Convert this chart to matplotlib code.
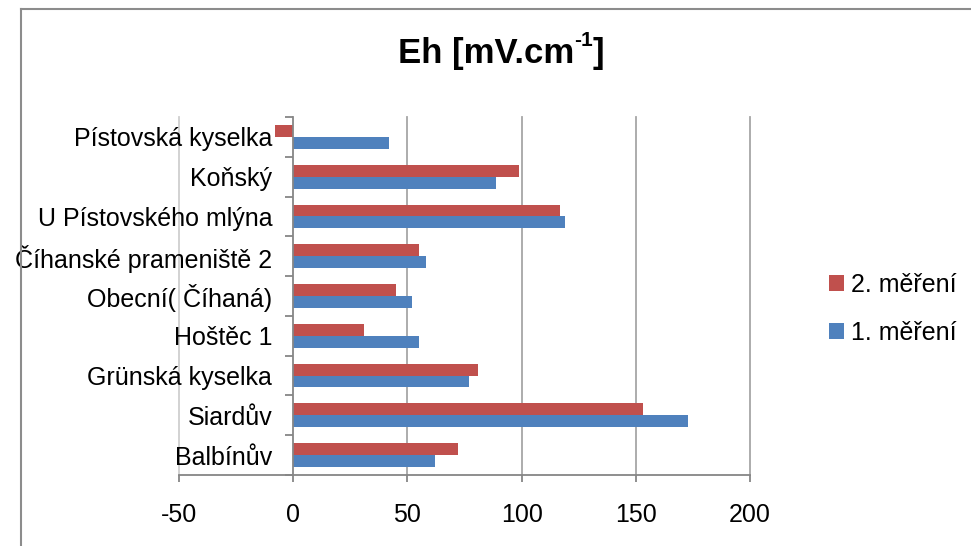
import numpy as np
import matplotlib
matplotlib.use("Agg")
import matplotlib.pyplot as plt
from matplotlib.patches import Patch
from matplotlib.lines import Line2D
from matplotlib.ticker import FixedLocator, NullFormatter

plt.rcParams["font.family"] = ["Liberation Sans", "DejaVu Sans"]

# lokality odspodu nahoru
lokality = ["Balbínův", "Siardův", "Grünská kyselka", "Hoštěc 1",
            "Obecní( Číhaná)", "Číhanské prameniště 2",
            "U Pístovského mlýna", "Koňský", "Pístovská kyselka"]
mereni_1 = [62, 173, 77, 55, 52, 58, 119, 89, 42]
mereni_2 = [72, 153, 81, 31, 45, 55, 117, 99, -8]
x_ticks = [-50, 0, 50, 100, 150, 200]

BLUE = "#4F81BD"
RED = "#C0504D"
GRID = "#A6A6A6"
AXIS = "#868686"

fig = plt.figure(figsize=(9.71, 5.46), dpi=100)
ax = fig.add_axes([179/971, 1-475/546, (750-179)/971, (475-117)/546])

y = np.arange(len(lokality))
h = 0.3
ax.barh(y + h/2, mereni_2, height=h, color=RED, zorder=3)
ax.barh(y - h/2, mereni_1, height=h, color=BLUE, zorder=3)

ax.set_xlim(-50, 200)
ax.set_ylim(-0.5, len(lokality) - 0.5)

# svislá mřížka (levý okraj světlejší)
for xv in x_ticks:
    if xv == 0:
        continue
    ax.axvline(xv, color="#CFCFCF" if xv < 0 else GRID, lw=1.3, zorder=1,
               clip_on=False)

for s in ["top", "right"]:
    ax.spines[s].set_visible(False)
ax.spines["left"].set_position(("data", 0))
ax.spines["left"].set_color(AXIS)
ax.spines["left"].set_linewidth(1.3)
ax.spines["left"].set_zorder(4)
ax.spines["bottom"].set_color(AXIS)
ax.spines["bottom"].set_linewidth(1.3)

ax.set_xticks(x_ticks)
ax.set_xticklabels([str(v) for v in x_ticks])
ax.tick_params(axis="x", length=5, width=1.3, color=AXIS, pad=15,
               labelsize=18)

ax.set_yticks(y)
ax.set_yticklabels(lokality)
ax.tick_params(axis="y", which="major", length=0, pad=15, labelsize=18)
ax.yaxis.set_minor_locator(FixedLocator(np.arange(-0.5, len(lokality), 1)))
ax.yaxis.set_minor_formatter(NullFormatter())
ax.tick_params(axis="y", which="minor", length=6, width=1.3, color=AXIS)

handles = [Patch(facecolor=RED, label="2. měření"),
           Patch(facecolor=BLUE, label="1. měření")]
fig.legend(handles=handles, loc="center left",
           bbox_to_anchor=(816/971, 1-309/546), frameon=False,
           fontsize=18, handlelength=0.6, handleheight=0.6,
           handletextpad=0.3, labelspacing=0.95, borderpad=0)

# nadpis s horním indexem skládaný z kousků
renderer = fig.canvas.get_renderer()
title_y = 1 - 53/546
parts = [("Eh [mV.cm", 25, 0.0), ("-1", 15, 13.0), ("]", 25, 0.0)]
widths = []
for txt, fs, _ in parts:
    t = fig.text(0, 0, txt, fontsize=fs, fontweight="bold")
    widths.append(t.get_window_extent(renderer).width)
    t.remove()
x0 = 501 - sum(widths) / 2
for (txt, fs, dy), w in zip(parts, widths):
    fig.text(x0/971, title_y + dy/546, txt, fontsize=fs, fontweight="bold",
             ha="left", va="center")
    x0 += w

# rámeček grafu
fig.add_artist(Line2D([21/971, 21/971], [0, 1-9/546],
                      transform=fig.transFigure, color="#8C8C8C", lw=1.5))
fig.add_artist(Line2D([21/971, 1], [1-9/546, 1-9/546],
                      transform=fig.transFigure, color="#8C8C8C", lw=1.5))

fig.savefig("out.png", dpi=100)
